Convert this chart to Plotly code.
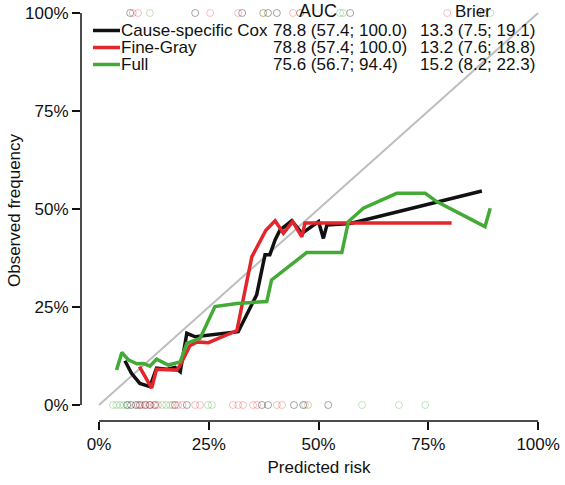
import plotly.graph_objects as go

# ---- data (percent) ----
models = ["Cause-specific Cox", "Fine-Gray", "Full"]
auc_text = ["78.8 (57.4; 100.0)", "78.8 (57.4; 100.0)", "75.6 (56.7; 94.4)"]
brier_text = ["13.3 (7.5; 19.1)", "13.2 (7.6; 18.8)", "15.2 (8.2; 22.3)"]

cox_x = [5.9, 7.4, 9.3, 11.6, 13.1, 15.4, 17.3, 18.5, 20.0, 21.9, 31.7, 33.6, 35.9, 37.8, 38.9,
         40.1, 41.2, 43.9, 46.2, 50.0, 51.1, 51.9, 57.2, 87.2]
cox_y = [11.3, 8.1, 5.5, 4.7, 9.4, 9.1, 9.6, 8.5, 18.3, 17.4, 18.7, 23.0, 28.1, 38.3, 38.3,
         42.1, 44.6, 47.0, 43.8, 46.8, 42.5, 45.9, 46.3, 54.6]

fg_x = [9.2, 12.0, 13.1, 17.7, 18.5, 20.7, 22.3, 24.9, 31.4, 34.8, 38.0, 40.1, 42.0, 44.1,
        46.2, 46.9, 80.3]
fg_y = [9.8, 4.3, 9.1, 8.9, 10.2, 15.1, 16.1, 15.9, 19.0, 37.8, 44.6, 47.0, 43.8, 46.8,
        42.9, 46.4, 46.4]

full_x = [4.0, 5.2, 6.7, 8.6, 10.1, 11.6, 13.1, 15.8, 18.5, 20.0, 23.0, 26.4, 31.4, 38.2,
          39.3, 47.3, 55.3, 56.8, 60.2, 67.8, 74.3, 76.9, 87.9, 89.1]
full_y = [8.9, 13.4, 11.5, 10.5, 10.6, 9.9, 11.7, 10.2, 11.0, 15.7, 17.0, 25.1, 25.9, 26.4,
          31.9, 38.9, 38.9, 46.8, 50.2, 54.0, 54.0, 51.9, 45.5, 50.2]

# rug positions (predicted risk, %)
cox_rug_bottom = [6.4, 7.3, 8.4, 9.3, 10.5, 11.6, 12.8, 17.3, 20.0, 37.1, 38.5, 44.4, 46.5, 52.2]
fg_rug_bottom = [8.9, 9.8, 10.7, 11.6, 12.5, 13.4, 16.8, 18.0, 19.0, 21.9, 23.0, 30.5, 31.7,
                 32.8, 35.1, 36.0, 40.5, 41.7, 47.6]
full_rug_bottom = [3.2, 4.0, 4.8, 5.6, 6.6, 14.4, 15.3, 16.2, 24.8, 25.7, 46.9, 59.9, 68.3, 74.3]
cox_rug_top = [7.1, 21.9, 32.6, 38.5, 40.5, 45.8, 57.2, 87.5]
fg_rug_top = [7.7, 8.9, 25.3, 31.7, 37.4, 44.2, 79.3]
full_rug_top = [11.6, 37.4, 54.9, 55.6, 89.1]

diag = [0, 100]
ticks = [0, 25, 50, 75, 100]
tick_labels = ["0%", "25%", "50%", "75%", "100%"]

colors = ["#111111", "#E3262B", "#42AA35"]
rug_colors = ["rgba(0,0,0,0.35)", "rgba(225,30,30,0.28)", "rgba(30,160,30,0.28)"]

FONT = "Liberation Sans, Arial, Helvetica, sans-serif"

fig = go.Figure()
fig.add_trace(go.Scatter(x=diag, y=diag, mode="lines", line=dict(color="#BEBEBE", width=2),
                         showlegend=False, hoverinfo="skip"))

rug_b = [cox_rug_bottom, fg_rug_bottom, full_rug_bottom]
rug_t = [cox_rug_top, fg_rug_top, full_rug_top]
for i in range(3):
    for xs, yv in ((rug_b[i], 0), (rug_t[i], 100)):
        fig.add_trace(go.Scatter(x=xs, y=[yv] * len(xs), mode="markers",
                                 marker=dict(symbol="circle-open", size=7,
                                             color=rug_colors[i], line=dict(width=1)),
                                 showlegend=False, hoverinfo="skip", cliponaxis=False))

series = [(cox_x, cox_y), (fg_x, fg_y), (full_x, full_y)]
for i, (xs, ys) in enumerate(series):
    fig.add_trace(go.Scatter(x=xs, y=ys, mode="lines", name=models[i],
                             line=dict(color=colors[i], width=3.5), showlegend=False))

# plot area geometry: left 81, right 557, top 0, bottom 421 (px)
L, R, T, B = 81, 557, 0, 421
W, H = 565, 485

def px_x(px):
    return (px - L) / (R - L)

def px_y(py):
    return 1 - (py - T) / (B - T)

rows = [30.5, 47.5, 64.5]
shapes = []
annotations = []
for i in range(3):
    shapes.append(dict(type="line", xref="paper", yref="paper",
                       x0=px_x(93), x1=px_x(120), y0=px_y(rows[i]), y1=px_y(rows[i]),
                       line=dict(color=colors[i], width=3.5)))
    annotations.append(dict(text=models[i], xref="paper", yref="paper", x=px_x(119),
                            y=px_y(rows[i]), xanchor="left", yanchor="middle", showarrow=False,
                            font=dict(size=17, color="#111")))
    annotations.append(dict(text=auc_text[i], xref="paper", yref="paper", x=px_x(271),
                            y=px_y(rows[i]), xanchor="left", yanchor="middle", showarrow=False,
                            font=dict(size=17, color="#111")))
    annotations.append(dict(text=brier_text[i], xref="paper", yref="paper", x=px_x(418),
                            y=px_y(rows[i]), xanchor="left", yanchor="middle", showarrow=False,
                            font=dict(size=17, color="#111")))
annotations.append(dict(text="AUC", xref="paper", yref="paper", x=px_x(318), y=px_y(11),
                        xanchor="center", yanchor="middle", showarrow=False,
                        font=dict(size=18, color="#111")))
annotations.append(dict(text="Brier", xref="paper", yref="paper", x=px_x(473), y=px_y(12),
                        xanchor="center", yanchor="middle", showarrow=False,
                        font=dict(size=17, color="#111")))

# R-style detached axis lines spanning the tick range
shapes.append(dict(type="line", xref="x", yref="paper", x0=0, x1=100, y0=0, y1=0,
                   line=dict(color="#111", width=1.5)))
shapes.append(dict(type="line", xref="paper", yref="y", x0=0, x1=0, y0=0, y1=100,
                   line=dict(color="#111", width=1.5)))

fig.update_layout(
    width=W, height=H,
    margin=dict(l=L, r=W - R, t=T, b=H - B, autoexpand=False),
    paper_bgcolor="white", plot_bgcolor="white",
    font=dict(family=FONT, size=17, color="#111"),
    shapes=shapes, annotations=annotations, showlegend=False,
    xaxis=dict(range=[-4.1, 104.3], tickvals=ticks, ticktext=tick_labels, showgrid=False,
               zeroline=False, showline=False, ticks="outside", ticklen=8, tickwidth=1.5,
               tickcolor="#111", tickfont=dict(size=17), automargin=False,
               title=dict(text="Predicted risk", font=dict(size=17), standoff=7)),
    yaxis=dict(range=[-4.08, 103.32], tickvals=ticks, ticktext=tick_labels, showgrid=False,
               zeroline=False, showline=False, ticks="outside", ticklen=8, tickwidth=1.5,
               tickcolor="#111", tickfont=dict(size=17), automargin=False,
               title=dict(text="Observed frequency", font=dict(size=17), standoff=0)),
)

fig.write_html("out.html", config={"displayModeBar": False},
               post_script="document.body.style.margin='0';")
